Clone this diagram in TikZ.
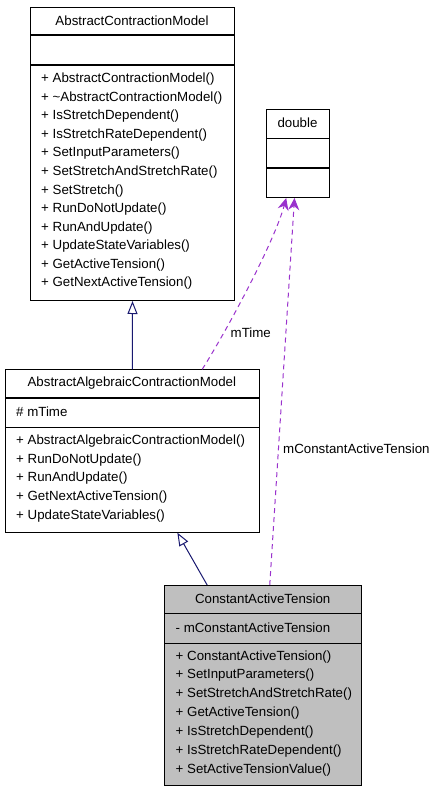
\documentclass[tikz,border=0pt]{standalone}
\usepackage{fontspec}
\setmainfont{Liberation Sans}
\usetikzlibrary{arrows.meta,calc}
\definecolor{inhcol}{HTML}{191970}
\definecolor{usecol}{HTML}{9A32CD}
\definecolor{boxgrey}{HTML}{BFBFBF}
\begin{document}
\begin{tikzpicture}[x=1pt,y=-1pt,
  classbox/.style={draw=black,line width=1pt,rectangle,inner sep=0pt,anchor=north west},
  sep/.style={draw=black,line width=1.2pt},
  title/.style={font=\fontsize{13.3}{15}\selectfont,inner sep=0pt,anchor=center},
  member/.style={font=\fontsize{13.3}{15}\selectfont,inner sep=0pt,anchor=west},
  elabel/.style={font=\fontsize{13.3}{15}\selectfont,inner sep=0pt,anchor=west},
  inh/.style={draw=inhcol,line width=1pt,-{Triangle[open,length=13pt,width=10pt,fill=white]}},
  uses/.style={draw=usecol,line width=1pt,dash pattern=on 5pt off 4pt,-{Stealth[length=12pt,width=11pt,inset=4pt]}}
]
\useasboundingbox (0,0) rectangle (439,792);
\fill[white] (0,0) rectangle (439,792);

% AbstractContractionModel
\node[classbox,minimum width=204pt,minimum height=293pt] (acm) at (30,7) {};
\draw[sep] (30,35) -- (234,35);
\draw[sep] (30,65) -- (234,65);
\node[title] (acmt) at (132,21) {AbstractContractionModel};
\foreach \t [count=\i from 0] in {AbstractContractionModel(),\textasciitilde AbstractContractionModel(),IsStretchDependent(),IsStretchRateDependent(),SetInputParameters(),SetStretchAndStretchRate(),SetStretch(),RunDoNotUpdate(),RunAndUpdate(),UpdateStateVariables(),GetActiveTension(),GetNextActiveTension()}
  \node[member] (acmm\i) at (41,79.3+18.55*\i) {+ \t};

% double
\node[classbox,minimum width=63pt,minimum height=88pt] (dbl) at (266,109) {};
\draw[sep] (266,138.5) -- (329,138.5);
\draw[sep] (266,168) -- (329,168);
\node[title] (dblt) at (297.5,123) {double};

% AbstractAlgebraicContractionModel
\node[classbox,minimum width=253.7pt,minimum height=162.4pt] (aacm) at (5,369.3) {};
\draw[sep] (5,398) -- (258.7,398);
\draw[sep] (5,427.7) -- (258.7,427.7);
\node[title] (aacmt) at (131.85,382.7) {AbstractAlgebraicContractionModel};
\node[member] (aacma) at (16,411.7) {\# mTime};
\foreach \t [count=\i from 0] in {AbstractAlgebraicContractionModel(),RunDoNotUpdate(),RunAndUpdate(),GetNextActiveTension(),UpdateStateVariables()}
  \node[member] (aacmm\i) at (16,441+18.7*\i) {+ \t};

% ConstantActiveTension
\node[classbox,fill=boxgrey,minimum width=196.7pt,minimum height=200.3pt] (cat) at (164.3,585) {};
\draw[sep] (164.3,613.7) -- (361,613.7);
\draw[sep] (164.3,643.3) -- (361,643.3);
\node[title] (catt) at (262.65,598.3) {ConstantActiveTension};
\node[member] (cata) at (175.5,627.7) {- mConstantActiveTension};
\foreach \t [count=\i from 0] in {ConstantActiveTension(),SetInputParameters(),SetStretchAndStretchRate(),GetActiveTension(),IsStretchDependent(),IsStretchRateDependent(),SetActiveTensionValue()}
  \node[member] (catm\i) at (175.5,656.7+18.85*\i) {+ \t};

% connectors
\draw[inh] (aacm.north) -- (acm.south);
\draw[inh] ([xshift=-56pt]cat.north) -- ([xshift=45pt]aacm.south);
\coordinate (mtS) at ([xshift=69.9pt]aacm.north);
\coordinate (mtE) at ([xshift=-11.8pt]dbl.south);
\draw[uses] (mtS) .. controls (230,325) and (275,240) .. (mtE);
\coordinate (mcS) at ([xshift=6.6pt]cat.north);
\coordinate (mcE) at ([xshift=-3.5pt]dbl.south);
\draw[uses] (mcS) -- (mcE);
\node[elabel] (lmt) at (230.5,332.7) {mTime};
\node[elabel] (lmc) at (283,449) {mConstantActiveTension};
\end{tikzpicture}
\end{document}
